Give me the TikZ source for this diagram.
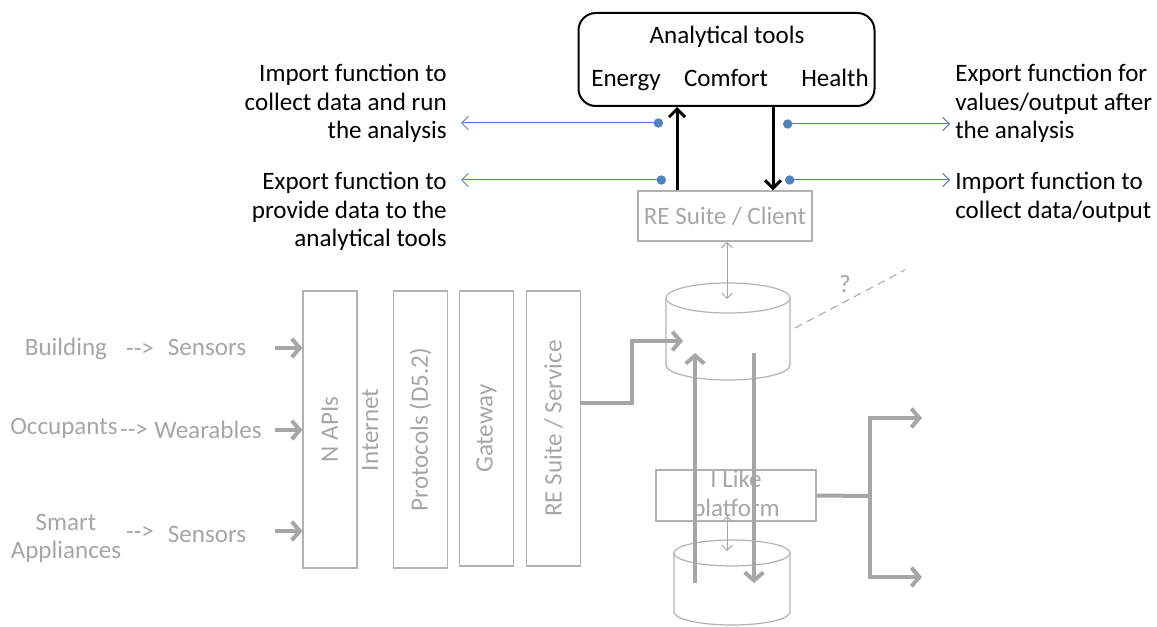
\documentclass[tikz,border=0pt]{standalone}
\usepackage{fontspec}
\setmainfont{Carlito}
\usetikzlibrary{arrows.meta,positioning}
\definecolor{greytxt}{RGB}{166,166,166}
\definecolor{greyln}{RGB}{178,178,178}
\definecolor{linkblue}{RGB}{79,129,189}

\begin{document}
\begin{tikzpicture}[x=0.75pt,y=-0.75pt,
  font=\fontsize{18.8}{21.4}\selectfont,
  tool box/.style={draw,rounded corners=13pt,line width=1.5pt,minimum width=222pt,minimum height=69.75pt},
  grey box/.style={draw=greyln,line width=0.9pt,text=greytxt,inner sep=0pt},
  layer box/.style={grey box,rotate=90,minimum width=207.75pt,minimum height=40.5pt},
  grey text/.style={text=greytxt,inner sep=0pt,text height=12pt,text depth=0pt},
  grey lines/.style={text=greytxt,inner sep=0pt,align=center},
  black text/.style={inner sep=0pt,text height=12pt,text depth=0pt},
  black lines/.style={inner sep=0pt},
  cyl/.style={draw=greyln,line width=0.9pt},
  flow/.style={line width=2.25pt,-{Straight Barb[length=6pt,width=12pt]}},
  grey flow/.style={greytxt,line width=3pt,-{Straight Barb[length=6pt,width=14pt]}},
  link/.style={linkblue,line width=0.75pt,{Circle[length=7pt]}-{Straight Barb[length=5pt,width=10pt]}},
  thin link/.style={greytxt,line width=0.75pt,{Straight Barb[length=4pt,width=8pt]}-{Straight Barb[length=4pt,width=8pt]}}]

  \useasboundingbox (0,0) rectangle (1157,627);

  % analytical tools
  \node[tool box] (tools) at (726.5,59.5) {};
  \node[black text] (title) at (727,35.5) {Analytical tools};
  \node[black text] (energy) at (626,79) {Energy};
  \node[black text] (comfort) at (726,79) {Comfort};
  \node[black text] (health) at (835,79) {Health};

  \node[black lines,anchor=east,align=right] (imp left) at (447,103.5)
    {Import function to\\collect data and run\\the analysis};
  \node[black lines,anchor=east,align=right] (exp left) at (447,211.5)
    {Export function to\\provide data to the\\analytical tools};
  \node[black lines,anchor=west,align=left] (exp right) at (955,103.5)
    {Export function for\\values/output after\\the analysis};
  \node[black lines,anchor=west,align=left] (imp right) at (955,197.5)
    {Import function to\\collect data/output};

  \node[grey box,minimum width=130.5pt,minimum height=37.5pt] (client) at (725,216) {RE Suite / Client};

  % sources
  \node[grey text] (building) at (66,348) {Building};
  \node[grey text] (occupants) at (64,426) {Occupants};
  \node[grey lines] (smart) at (66,538.5) {Smart\\Appliances};
  \node[grey text] (dash a) at (140,349) {-\kern0pt-\kern0pt>};
  \node[grey text] (dash b) at (134,429) {-\kern0pt-\kern0pt>};
  \node[grey text] (dash c) at (140,531) {-\kern0pt-\kern0pt>};
  \node[grey text] (sens a) at (207,347) {Sensors};
  \node[grey text] (wear) at (208,430) {Wearables};
  \node[grey text] (sens b) at (207,534) {Sensors};

  % layers
  \node[layer box] (apis) at (330,429.5) {N APIs};
  \node[grey text,rotate=90] (internet) at (370,430) {Internet};
  \node[layer box] (protocols) at (420.5,429.5) {Protocols (D5.2)};
  \node[layer box,minimum width=206.25pt] (gateway) at (486.5,428.5) {Gateway};
  \node[layer box,minimum width=206.25pt] (service) at (553.5,428.5) {RE Suite / Service};

  \node[grey box,minimum width=120pt,minimum height=38.25pt,align=center] (platform) at (736,495.5) {I Like\\platform};

  % databases
  \draw[cyl] (666,298) -- (666,365) arc[start angle=180,end angle=360,x radius=46.5pt,y radius=11.25pt] -- (790,298);
  \draw[cyl] (728,298) ellipse [x radius=46.5pt,y radius=11.25pt];
  \draw[cyl] (674,553) -- (674,612) arc[start angle=180,end angle=360,x radius=43.5pt,y radius=9.75pt] -- (790,553);
  \draw[cyl] (732,553) ellipse [x radius=43.5pt,y radius=9.75pt];
  \coordinate (db top) at (727,299);
  \coordinate (db in) at (683,341);
  \coordinate (store top) at (727,551);

  \coordinate (up x) at (677,0);
  \coordinate (down x) at (773,0);
  \coordinate (dot a) at (663,123);
  \coordinate (dot b) at (666,180);
  \coordinate (dot c) at (783,124);
  \coordinate (dot d) at (785,180);
  \coordinate (tip a) at (461,123);
  \coordinate (tip b) at (461,180);
  \coordinate (tip c) at (950,124);
  \coordinate (tip d) at (950,180);

  \draw[flow] (client.north -| up x) -- (tools.south -| up x);
  \draw[flow] (tools.south -| down x) -- (client.north -| down x);
  \draw[link] (dot a) -- (tip a);
  \draw[link] (dot b) -- (tip b);
  \draw[link] (dot c) -- (tip c);
  \draw[link] (dot d) -- (tip d);

  \draw[thin link] (client.south -| db top) -- (db top);
  \draw[thin link] (727,516) -- (store top);

  \draw[greytxt,dash pattern=on 6pt off 4pt,line width=0.75pt] (795,328) -- (905,270);
  \node[grey text] (query) at (845,285) {?};

  % inputs
  \coordinate (in a) at (275,348);
  \coordinate (in b) at (275,430);
  \coordinate (in c) at (275,531);
  \draw[grey flow] (in a) -- (in a -| apis.north);
  \draw[grey flow] (in b) -- (in b -| apis.north);
  \draw[grey flow] (in c) -- (in c -| apis.north);

  \coordinate (svc out) at (580,403);
  \draw[grey flow] (svc out) -- (632,403) |- (db in);
  \draw[grey flow] (695,583) -- (695,353);
  \draw[grey flow] (754,353) -- (754,583);

  \coordinate (fork) at (870,496);
  \draw[greytxt,line width=3pt] (platform.east) -- (fork);
  \draw[grey flow] (fork) |- (922,418);
  \draw[grey flow] (fork) |- (922,577);

\end{tikzpicture}
\end{document}
